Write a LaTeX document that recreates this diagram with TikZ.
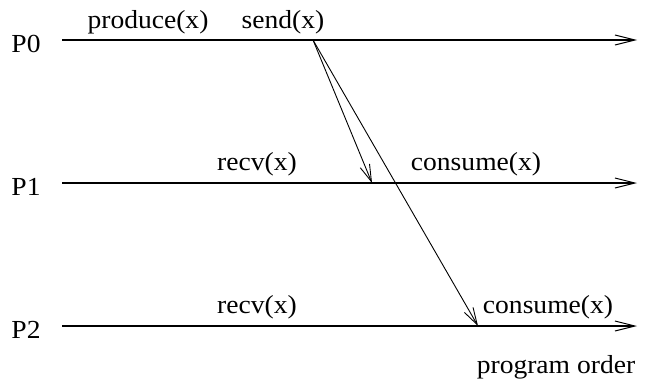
\documentclass[tikz,border=0pt]{standalone}
\usepackage{fontspec}
\setmainfont{Liberation Serif}[FakeStretch=1.06]
\usetikzlibrary{arrows.meta}
\begin{document}
\begin{tikzpicture}[x=1pt,y=-1pt,
  lbl/.style={anchor=base,inner sep=0pt,font=\fontsize{26}{30}\selectfont},
  timeline/.style={line width=1.1pt,-{Straight Barb[length=20pt,width=10pt,line width=1pt]}},
  msg/.style={line width=0.9pt,-{Straight Barb[length=17pt,width=10pt,line width=0.9pt]}}]
\useasboundingbox (0,0) rectangle (651,383);
% timelines
\coordinate (a0) at (62,40);  \coordinate (b0) at (637,40);
\coordinate (a1) at (62,183); \coordinate (b1) at (637,183);
\coordinate (a2) at (62,326); \coordinate (b2) at (637,326);
\coordinate (snd) at (313,40);
\coordinate (rc1) at (372,183);
\coordinate (rc2) at (478,326);
\draw[timeline] (a0) -- (b0);
\draw[timeline] (a1) -- (b1);
\draw[timeline] (a2) -- (b2);
\draw[msg] (snd) -- (rc1);
\draw[msg] (snd) -- (rc2);
% labels
\node[lbl] (p0) at (26,52) {P0};
\node[lbl] (p1) at (26,195) {P1};
\node[lbl] (p2) at (26,338) {P2};
\node[lbl] (prod) at (148,28) {produce(x)};
\node[lbl] (send) at (283,28) {send(x)};
\node[lbl] (recv1) at (257,170) {recv(x)};
\node[lbl] (cons1) at (476,170) {consume(x)};
\node[lbl] (recv2) at (257,313) {recv(x)};
\node[lbl] (cons2) at (548,313) {consume(x)};
\node[lbl] (po) at (556,373) {program order};
\end{tikzpicture}
\end{document}
